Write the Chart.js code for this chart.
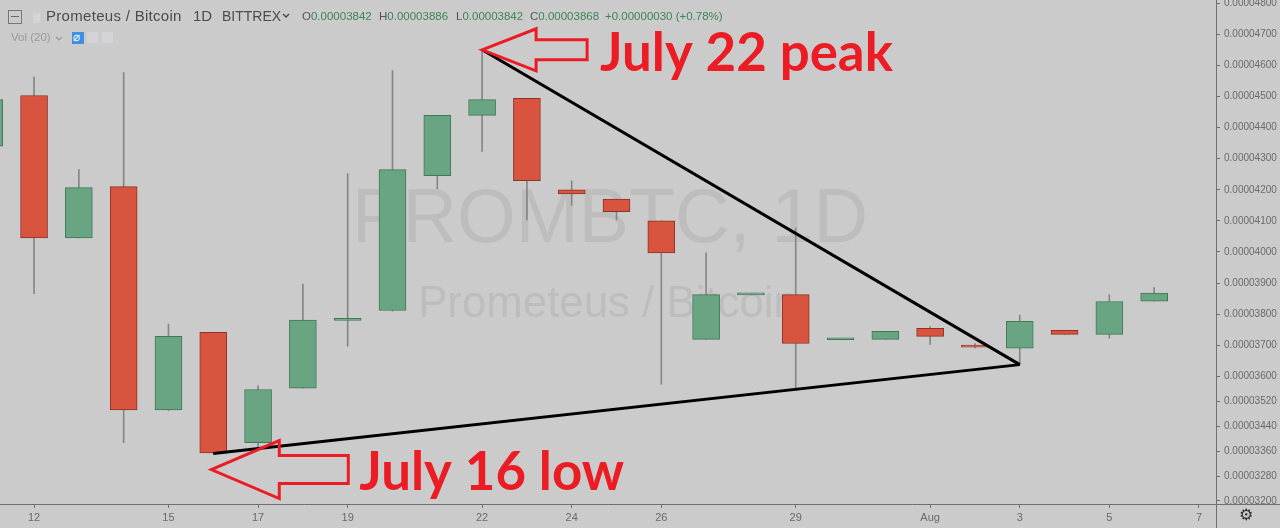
<!DOCTYPE html>
<html>
<head>
<meta charset="utf-8">
<title>PROMBTC 1D</title>
<script src="https://cdn.jsdelivr.net/npm/chart.js"></script>
<style>
  html, body { margin: 0; padding: 0; background: #cbcbcb; }
  #wrap { position: relative; width: 1280px; height: 528px; overflow: hidden; }
  #chart { position: absolute; left: 0; top: 0; }
  .hd { position: absolute; white-space: nowrap; font-family: "Liberation Sans", Arial, sans-serif; pointer-events: none; }
  .title { top: 7px; font-size: 15px; color: #4c4c4c; }
  .ohlc { top: 10px; font-size: 11.5px; color: #3b8556; }
  .ohlc b { font-weight: normal; color: #555; }
  .vol { top: 31px; font-size: 11.5px; color: #9a9a9a; }
  .box { position: absolute; pointer-events: none; }
  .gear { position: absolute; left: 1239px; top: 505px; font-size: 16px; color: #333; font-family: "DejaVu Sans", sans-serif; }
  svg.chev { position: absolute; }
</style>
</head>
<body>
<div id="wrap">
  <canvas id="chart" width="1280" height="528"></canvas>

  <!-- header / legend -->
  <div class="box" style="left:8px;top:10px;width:12px;height:12px;border:1px solid #777;"></div>
  <div class="box" style="left:11px;top:16px;width:8px;height:1px;background:#666;"></div>
  <div class="box" style="left:33px;top:13px;width:7px;height:10px;background:#d3d3dc;"></div>
  <div class="hd title" style="left:46px;letter-spacing:0.3px;">Prometeus / Bitcoin</div>
  <div class="hd title" style="left:193px;">1D</div>
  <div class="hd title" style="left:222px;font-size:14px;top:8px;">BITTREX</div>
  <svg class="chev" style="left:282px;top:13px;" width="8" height="6"><polyline points="1,1 4,4 7,1" fill="none" stroke="#444" stroke-width="1.4"/></svg>
  <div class="hd ohlc" style="left:302px;"><b>O</b>0.00003842</div>
  <div class="hd ohlc" style="left:379px;"><b>H</b>0.00003886</div>
  <div class="hd ohlc" style="left:456px;"><b>L</b>0.00003842</div>
  <div class="hd ohlc" style="left:530px;"><b>C</b>0.00003868</div>
  <div class="hd ohlc" style="left:605px;">+0.00000030 (+0.78%)</div>
  <div class="hd vol" style="left:11px;">Vol (20)</div>
  <svg class="chev" style="left:55px;top:36px;" width="8" height="6"><polyline points="1,1 4,4 7,1" fill="none" stroke="#9a9a9a" stroke-width="1.2"/></svg>
  <div class="box" style="left:72px;top:32px;width:12px;height:12px;background:#3d90e3;"></div>
  <div class="hd" style="left:73px;top:30px;font-size:12px;color:#fff;">&#8960;</div>
  <div class="box" style="left:87px;top:32px;width:11px;height:11px;background:#d4d4d8;"></div>
  <div class="box" style="left:102px;top:32px;width:11px;height:11px;background:#d4d4d8;"></div>
  <div class="gear">&#9881;</div>
</div>

<script>
// ---------- DATA ----------
// day of July (Aug 1 = 32)
const days   = [11, 12, 13, 14, 15, 16, 17, 18, 19, 20, 21, 22, 23, 24, 25, 26, 27, 28, 29, 30, 31, 32, 33, 34, 35, 36, 37];
const opens  = [0.00004340, 0.00004503, 0.00004045, 0.00004210, 0.00003492, 0.00003742, 0.00003387, 0.00003562, 0.00003780,
                0.00003812, 0.00004245, 0.00004439, 0.00004494, 0.00004200, 0.00004170, 0.00004100, 0.00003719, 0.00003862,
                0.00003863, 0.00003718, 0.00003719, 0.00003755, 0.00003700, 0.00003691, 0.00003748, 0.00003735, 0.00003842];
const highs  = [0.00004500, 0.00004563, 0.00004265, 0.00004577, 0.00003768, 0.00003742, 0.00003571, 0.00003897, 0.00004252,
                0.00004583, 0.00004439, 0.00004650, 0.00004494, 0.00004229, 0.00004170, 0.00004100, 0.00003997, 0.00003863,
                0.00004077, 0.00003719, 0.00003745, 0.00003760, 0.00003706, 0.00003797, 0.00003748, 0.00003863, 0.00003886];
const lows   = [0.00004320, 0.00003866, 0.00004045, 0.00003387, 0.00003490, 0.00003352, 0.00003363, 0.00003562, 0.00003697,
                0.00003810, 0.00004203, 0.00004323, 0.00004103, 0.00004150, 0.00004103, 0.00003575, 0.00003719, 0.00003862,
                0.00003555, 0.00003718, 0.00003719, 0.00003703, 0.00003692, 0.00003638, 0.00003735, 0.00003723, 0.00003842];
const closes = [0.00004490, 0.00004045, 0.00004207, 0.00003492, 0.00003729, 0.00003354, 0.00003558, 0.00003781, 0.00003781,
                0.00004265, 0.00004439, 0.00004490, 0.00004229, 0.00004187, 0.00004130, 0.00003997, 0.00003863, 0.00003863,
                0.00003706, 0.00003719, 0.00003745, 0.00003729, 0.00003694, 0.00003777, 0.00003735, 0.00003841, 0.00003868];

// axis ticks
const priceTicks = [0.000048, 0.000047, 0.000046, 0.000045, 0.000044, 0.000043, 0.000042, 0.000041, 0.000040,
                    0.000039, 0.000038, 0.000037, 0.000036, 0.0000352, 0.0000344, 0.0000336, 0.0000328, 0.000032];
const dayTicks   = [12, 15, 17, 19, 22, 24, 26, 29, 32, 34, 36, 38];
const dayLabels  = ['12', '15', '17', '19', '22', '24', '26', '29', 'Aug', '3', '5', '7'];

// annotation anchors (day of July)
const peakDay = 22;
const lowDay = 16;
const apexDay = 34;

// ---------- COLORS ----------
const UP = '#6aa583', UP_BORDER = '#3e7a55';
const DOWN = '#d9543f', DOWN_BORDER = '#8f3224';
const WICK = '#868686';
const BG = '#cbcbcb';
const RED = '#ec1c24';

const isUp = days.map((d, i) => closes[i] >= opens[i]);

const bodies = days.map((d, i) => ({ x: d, y: [opens[i], closes[i]] }));
const wicks = days.map((d, i) => ({ x: d, y: [lows[i], highs[i]] }));

const iPeak = days.indexOf(peakDay), iLow = days.indexOf(lowDay), iApex = days.indexOf(apexDay);
const upperLine = [{ x: peakDay, y: highs[iPeak] }, { x: apexDay, y: lows[iApex] }];
const lowerLine = [{ x: lowDay, y: lows[iLow] }, { x: apexDay, y: lows[iApex] }];

// ---------- DECORATION PLUGIN ----------
function fitFont(ctx, text, width, weight, family) {
  ctx.font = `${weight} 100px ${family}`;
  const w = ctx.measureText(text).width;
  return `${weight} ${(100 * width / w).toFixed(1)}px ${family}`;
}

function drawArrow(ctx, x0, y0, pts) {
  ctx.beginPath();
  ctx.moveTo(x0, y0);
  pts.forEach(p => ctx.lineTo(x0 + p[0], y0 + p[1]));
  ctx.closePath();
  ctx.stroke();
}

const decor = {
  id: 'decor',
  beforeDraw(chart) {
    const ctx = chart.ctx;
    ctx.save();
    ctx.fillStyle = BG;
    ctx.fillRect(0, 0, chart.width, chart.height);
    ctx.restore();
  },
  beforeDatasetsDraw(chart) {
    const { ctx, chartArea } = chart;
    const cx = (chartArea.left + chartArea.right) / 2;
    ctx.save();
    ctx.fillStyle = '#bdbdbd';
    ctx.textAlign = 'center';
    ctx.textBaseline = 'alphabetic';
    ctx.font = fitFont(ctx, 'PROMBTC, 1D', 516, 'normal', '"Liberation Sans", Arial, sans-serif');
    ctx.fillText('PROMBTC, 1D', cx + 2, 242);
    ctx.font = fitFont(ctx, 'Prometeus / Bitcoin', 380, 'normal', '"Liberation Sans", Arial, sans-serif');
    ctx.fillText('Prometeus / Bitcoin', cx, 317);
    ctx.restore();
  },
  afterDatasetsDraw(chart) {
    const { ctx } = chart;
    const xs = chart.scales.x, ys = chart.scales.y;
    ctx.save();
    ctx.strokeStyle = RED;
    ctx.lineWidth = 3;
    ctx.lineJoin = 'miter';

    // July 22 peak arrow
    const px = xs.getPixelForValue(peakDay), py = ys.getPixelForValue(highs[iPeak]);
    drawArrow(ctx, px, py, [[54, -21], [54, -10], [105, -10], [105, 10], [54, 10], [54, 21]]);

    // July 16 low arrow
    const lx = xs.getPixelForValue(lowDay) - 2, ly = ys.getPixelForValue(lows[iLow]) + 16;
    drawArrow(ctx, lx, ly, [[68, -29], [68, -14], [137, -14], [137, 14], [68, 14], [68, 29]]);

    ctx.fillStyle = RED;
    ctx.textAlign = 'left';
    ctx.textBaseline = 'alphabetic';
    const fam = 'Lato, "Open Sans", sans-serif';
    ctx.font = fitFont(ctx, 'July 22 peak', 293, 'bold', fam);
    ctx.fillText('July 22 peak', px + 118, py + 21);
    ctx.font = fitFont(ctx, 'July 16 low', 265, 'bold', fam);
    ctx.fillText('July 16 low', lx + 148, ly + 20);
    ctx.restore();
  },
  afterDraw(chart) {
    const { ctx, chartArea } = chart;
    ctx.save();
    // clip price labels below the pane, as in the original
    ctx.fillStyle = BG;
    ctx.fillRect(chartArea.right + 1, chartArea.bottom + 1, chart.width - chartArea.right, chart.height - chartArea.bottom);
    ctx.strokeStyle = '#6f6f6f';
    ctx.lineWidth = 1;
    ctx.beginPath();
    ctx.moveTo(chartArea.right, chartArea.bottom + 0.5);
    ctx.lineTo(chart.width, chartArea.bottom + 0.5);
    ctx.moveTo(chartArea.right + 0.5, chartArea.bottom);
    ctx.lineTo(chartArea.right + 0.5, chart.height);
    ctx.stroke();
    ctx.restore();
  }
};

// ---------- CHART ----------
const ctx = document.getElementById('chart').getContext('2d');

new Chart(ctx, {
  type: 'bar',
  data: {
    datasets: [
      {
        type: 'line',
        data: upperLine,
        borderColor: '#000',
        borderWidth: 3,
        pointRadius: 0,
        tension: 0,
        order: 0
      },
      {
        type: 'line',
        data: lowerLine,
        borderColor: '#000',
        borderWidth: 3,
        pointRadius: 0,
        tension: 0,
        order: 0
      },
      {
        label: 'body',
        data: bodies,
        backgroundColor: isUp.map(u => u ? UP : DOWN),
        borderColor: isUp.map(u => u ? UP_BORDER : DOWN_BORDER),
        borderWidth: 1,
        borderSkipped: false,
        barThickness: 27,
        minBarLength: 2,
        grouped: false,
        order: 1
      },
      {
        label: 'wick',
        data: wicks,
        backgroundColor: WICK,
        borderWidth: 0,
        barThickness: 1,
        grouped: false,
        order: 2
      }
    ]
  },
  options: {
    responsive: false,
    animation: false,
    layout: { padding: 0 },
    plugins: {
      legend: { display: false },
      tooltip: { enabled: false }
    },
    scales: {
      x: {
        type: 'linear',
        min: 11.24,
        max: 38.38,
        offset: false,
        grid: { offset: false, drawOnChartArea: false, drawTicks: true, tickLength: 4, color: '#6f6f6f' },
        border: { display: true, color: '#6f6f6f' },
        afterBuildTicks: (scale) => { scale.ticks = dayTicks.map(v => ({ value: v })); },
        afterFit: (scale) => {
          scale.height = 24;
          scale.paddingLeft = 0; scale.paddingRight = 0;
        },
        ticks: {
          autoSkip: false,
          maxRotation: 0,
          padding: 3,
          color: '#6a6a6a',
          font: { size: 11, family: '"Liberation Sans", Arial, sans-serif' },
          callback: (v) => dayLabels[dayTicks.indexOf(v)]
        }
      },
      y: {
        type: 'linear',
        position: 'right',
        min: 0.0000319,
        max: 0.0000481,
        grid: { drawOnChartArea: false, drawTicks: true, tickLength: 4, color: '#6f6f6f' },
        border: { display: true, color: '#6f6f6f' },
        afterBuildTicks: (scale) => { scale.ticks = priceTicks.map(v => ({ value: v })); },
        afterFit: (scale) => {
          scale.width = 64;
          scale.paddingTop = 0; scale.paddingBottom = 0;
        },
        ticks: {
          padding: 4,
          color: '#6a6a6a',
          font: { size: 10, family: '"Liberation Sans", Arial, sans-serif' },
          callback: (v) => v.toFixed(8)
        }
      }
    }
  },
  plugins: [decor]
});
</script>
</body>
</html>
